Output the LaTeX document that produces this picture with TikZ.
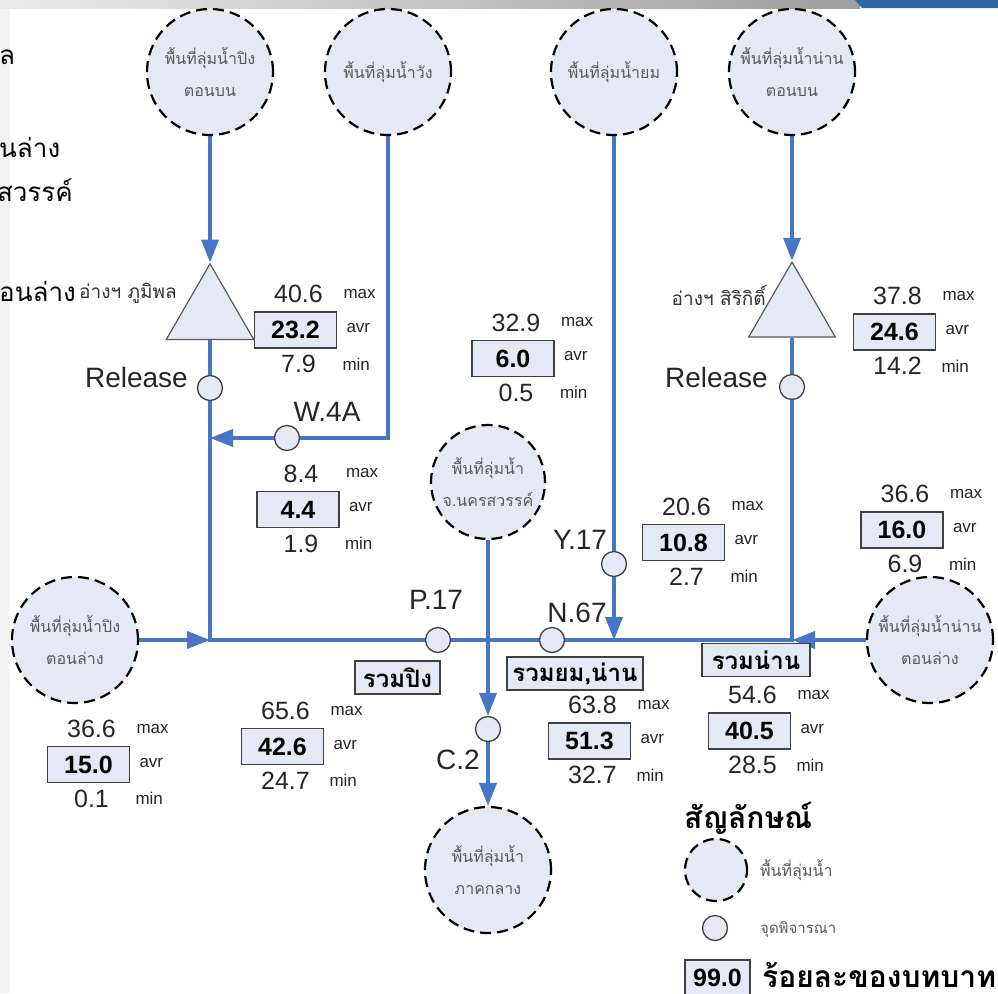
\documentclass[tikz,border=0pt]{standalone}
\usepackage{fontspec}
\setmainfont{Liberation Sans}
\newfontfamily\thai[Script=Thai]{Loma}
\usetikzlibrary{arrows.meta,shapes.geometric}
\pgfdeclarelayer{frame}
\pgfdeclarelayer{background}
\pgfsetlayers{frame,background,main}

\definecolor{flowblue}{HTML}{4776C6}
\definecolor{paleblue}{HTML}{E4EAF5}
\definecolor{inkgray}{HTML}{262626}
\definecolor{bandblue}{HTML}{2A679E}

\tikzset{
  basin/.style={circle, draw=black, dash pattern=on 11pt off 6pt, line width=2.2pt,
    fill=paleblue, minimum size=126pt, inner sep=0pt, align=center,
    font=\thai\fontsize{16}{32}\selectfont, text=black!65},
  gauge/.style={circle, draw=black!75, line width=1.3pt, fill=paleblue,
    minimum size=25pt, inner sep=0pt},
  dam/.style={regular polygon, regular polygon sides=3, draw=black!65,
    line width=1.2pt, fill=paleblue, minimum size=101pt, inner sep=0pt},
  flow/.style={draw=flowblue, line width=3.8pt},
  flowarrow/.style={flow, -{Triangle[length=23pt,width=17pt]}},
  valbox/.style={draw=black!75, line width=1.6pt, fill=paleblue,
    minimum width=82pt, minimum height=36pt, inner sep=0pt,
    font=\bfseries\fontsize{25}{25}\selectfont, text=black},
  num/.style={font=\fontsize{25}{25}\selectfont, text=inkgray, inner sep=0pt},
  tag/.style={font=\fontsize{17}{17}\selectfont, text=inkgray, inner sep=0pt, anchor=west},
  station/.style={font=\fontsize{28}{28}\selectfont, text=inkgray, inner sep=0pt},
  sumbox/.style={draw=black!75, line width=1.6pt, fill=paleblue, inner sep=0pt,
    minimum height=33pt, font=\thai\bfseries\fontsize{24}{24}\selectfont, text=black},
  damlabel/.style={font=\thai\fontsize{19}{19}\selectfont, text=black!80,
    inner sep=0pt, anchor=east},
  slidetext/.style={font=\thai\fontsize{26}{26}\selectfont, text=black, inner sep=0pt},
}

% max / avr / min block: name, box centre, max, avr, min
\newcommand\flowstats[5]{%
  \node[valbox] (#1) at (#2) {#4};
  \node[num] (#1-max) at ([xshift=3pt,yshift=36pt]#1.center) {#3};
  \node[num] (#1-min) at ([xshift=3pt,yshift=-34pt]#1.center) {#5};
  \node[tag] (#1-maxtag) at ([xshift=6pt,yshift=36pt]#1.east) {max};
  \node[tag] (#1-avrtag) at ([xshift=9pt,yshift=2pt]#1.east) {avr};
  \node[tag] (#1-mintag) at ([xshift=5pt,yshift=-34pt]#1.east) {min};
}

\begin{document}
\begin{tikzpicture}[x=1pt,y=-1pt]
\useasboundingbox (0,0) rectangle (998,993);
\clip (0,0) rectangle (998,993);

% slide frame
\begin{pgfonlayer}{frame}
\fill[white] (0,0) rectangle (998,993);
\fill[black!5] (0,0) rectangle (10,993);
\shade[left color=black!8, middle color=black!11, right color=black!38] (0,0) rectangle (860,8);
\fill[bandblue] (855,0) -- (998,0) -- (998,8) -- (862,8) -- cycle;
\end{pgfonlayer}

% slide text showing at the left edge
\node[slidetext, anchor=west] (st1) at (-1,57) {ล};
\node[slidetext, anchor=west] (st2) at (-1,148) {นล่าง};
\node[slidetext, anchor=east] (st3) at (73,190) {นครสวรรค์};
\node[slidetext, anchor=west] (st4) at (-1,291) {อนล่าง};

% river basins
\node[basin] (pingU) at (210,72) {พื้นที่ลุ่มน้ำปิง\\ตอนบน};
\node[basin] (wang) at (388,72) {พื้นที่ลุ่มน้ำวัง};
\node[basin] (yom) at (614,72) {พื้นที่ลุ่มน้ำยม};
\node[basin] (nanU) at (792,72) {พื้นที่ลุ่มน้ำน่าน\\ตอนบน};
\node[basin] (pingL) at (75,640) {พื้นที่ลุ่มน้ำปิง\\ตอนล่าง};
\node[basin, minimum size=114pt] (nsw) at (488,482) {พื้นที่ลุ่มน้ำ\\จ.นครสวรรค์};
\node[basin] (nanL) at (930,640) {พื้นที่ลุ่มน้ำน่าน\\ตอนล่าง};
\node[basin] (central) at (488,870) {พื้นที่ลุ่มน้ำ\\ภาคกลาง};

% reservoirs
\node[dam] (damB) at (210,314.3) {};
\node[dam, minimum size=100pt] (damS) at (792,312) {};
\node[damlabel] (damBlbl) at (177,293) {อ่างฯ ภูมิพล};
\node[damlabel] (damSlbl) at (766,295) {อ่างฯ สิริกิติ์};

% stations
\node[gauge] (relB) at (210,388) {};
\node[gauge] (w4a) at (287,438) {};
\node[gauge] (p17) at (438,640) {};
\node[gauge] (n67) at (552,640) {};
\node[gauge] (y17) at (614,564) {};
\node[gauge] (c2) at (488,729) {};
\node[gauge] (relS) at (792,387) {};
\coordinate (jPing) at (210,640);
\coordinate (jNan) at (792,640);

\node[station, anchor=east] (relBlbl) at (188,377) {Release};
\node[station, anchor=east] (relSlbl) at (768,377) {Release};
\node[station] (w4albl) at (327,412) {W.4A};
\node[station] (p17lbl) at (436,600) {P.17};
\node[station] (n67lbl) at (577,613) {N.67};
\node[station] (y17lbl) at (580,540) {Y.17};
\node[station] (c2lbl) at (458,760) {C.2};

% flows
\begin{pgfonlayer}{background}
\draw[flowarrow] (pingU) -- (damB.north);
\draw[flow] (damB.south) -- (relB);
\draw[flow] (wang) |- (w4a);
\draw[flowarrow] (w4a) -- (w4a -| relB);
\draw[flow] (relB) -- (jPing) -- (p17);
\draw[flowarrow] (pingL) -- (jPing);
\draw[flow] (p17) -- (n67);
\draw[flow] (n67) -- (jNan) -- (relS);
\draw[flowarrow] (nanL) -- (jNan);
\draw[flow] (yom) -- (y17);
\draw[flowarrow] (y17) -- (y17 |- jPing);
\draw[flowarrow] (nanU) -- (damS.north);
\draw[flow] (damS.south) -- (relS);
\draw[flowarrow] (nsw) -- (c2);
\draw[flowarrow] (c2) -- (central);
\end{pgfonlayer}

% merged-flow labels
\node[sumbox, minimum width=85pt] (sumPing) at (397.5,677.5) {รวมปิง};
\node[sumbox, minimum width=136pt] (sumYN) at (575,673.5) {รวมยม,น่าน};
\node[sumbox, minimum width=108pt] (sumNan) at (756,660) {รวมน่าน};

% statistics
\flowstats{stB}{295.5,330}{40.6}{23.2}{7.9}
\flowstats{stW}{298,509.5}{8.4}{4.4}{1.9}
\flowstats{stY}{513,358.5}{32.9}{6.0}{0.5}
\flowstats{stS}{894.5,332}{37.8}{24.6}{14.2}
\flowstats{stY17}{683.5,542.5}{20.6}{10.8}{2.7}
\flowstats{stNL}{902,530}{36.6}{16.0}{6.9}
\flowstats{stPL}{88.5,764.5}{36.6}{15.0}{0.1}
\flowstats{stP}{282.5,746.5}{65.6}{42.6}{24.7}
\flowstats{stYN}{589.5,741}{63.8}{51.3}{32.7}
\flowstats{stN}{749.5,731}{54.6}{40.5}{28.5}

% legend
\node[font=\thai\bfseries\fontsize{30}{30}\selectfont, anchor=west, inner sep=0pt, text=black] (legtitle) at (684,818) {สัญลักษณ์};
\node[basin, minimum size=62pt] (legbasin) at (716,870) {};
\node[font=\thai\fontsize{16}{16}\selectfont, text=black!65, anchor=west, inner sep=0pt] (legbasintxt) at (760,870) {พื้นที่ลุ่มน้ำ};
\node[gauge] (leggauge) at (715,928) {};
\node[font=\thai\fontsize{15}{15}\selectfont, text=black!65, anchor=west, inner sep=0pt] (leggaugetxt) at (760,929) {จุดพิจารณา};
\node[valbox, minimum width=65pt] (legbox) at (717.5,978) {99.0};
\node[font=\thai\bfseries\fontsize{30}{30}\selectfont, anchor=west, inner sep=0pt, text=black] (legboxtxt) at (762,975) {ร้อยละของบทบาท};
\end{tikzpicture}
\end{document}
